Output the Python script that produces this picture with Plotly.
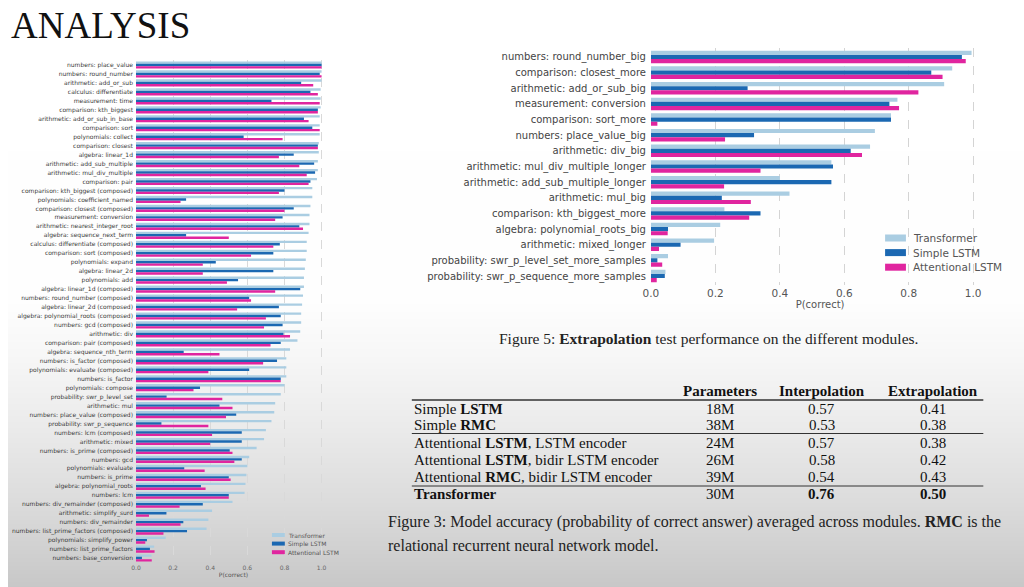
import plotly.graph_objects as go

W, H = 1024, 587

# ---------------- data ----------------
series_names = ["Transformer", "Simple LSTM", "Attentional LSTM"]
series_colors = ["#aacde2", "#1b68b2", "#e0259f"]

interp_modules = [
    "numbers: place_value", "numbers: round_number", "arithmetic: add_or_sub",
    "calculus: differentiate", "measurement: time", "comparison: kth_biggest",
    "arithmetic: add_or_sub_in_base", "comparison: sort", "polynomials: collect",
    "comparison: closest", "algebra: linear_1d", "arithmetic: add_sub_multiple",
    "arithmetic: mul_div_multiple", "comparison: pair", "comparison: kth_biggest (composed)",
    "polynomials: coefficient_named", "comparison: closest (composed)", "measurement: conversion",
    "arithmetic: nearest_integer_root", "algebra: sequence_next_term",
    "calculus: differentiate (composed)", "comparison: sort (composed)", "polynomials: expand",
    "algebra: linear_2d", "polynomials: add", "algebra: linear_1d (composed)",
    "numbers: round_number (composed)", "algebra: linear_2d (composed)",
    "algebra: polynomial_roots (composed)", "numbers: gcd (composed)", "arithmetic: div",
    "comparison: pair (composed)", "algebra: sequence_nth_term", "numbers: is_factor (composed)",
    "polynomials: evaluate (composed)", "numbers: is_factor", "polynomials: compose",
    "probability: swr_p_level_set", "arithmetic: mul", "numbers: place_value (composed)",
    "probability: swr_p_sequence", "numbers: lcm (composed)", "arithmetic: mixed",
    "numbers: is_prime (composed)", "numbers: gcd", "polynomials: evaluate", "numbers: is_prime",
    "algebra: polynomial_roots", "numbers: lcm", "numbers: div_remainder (composed)",
    "arithmetic: simplify_surd", "numbers: div_remainder", "numbers: list_prime_factors (composed)",
    "polynomials: simplify_power", "numbers: list_prime_factors", "numbers: base_conversion",
]
interp_transformer = [
    1.0, 1.0, 1.0, 0.995, 0.995, 0.995, 0.99, 0.99, 0.99, 0.985, 0.985, 0.98, 0.98, 0.975,
    0.95, 0.95, 0.94, 0.935, 0.935, 0.93, 0.92, 0.92, 0.915, 0.91, 0.905, 0.905, 0.90, 0.895,
    0.89, 0.89, 0.885, 0.87, 0.83, 0.81, 0.81, 0.81, 0.80, 0.78, 0.75, 0.745, 0.73, 0.70,
    0.69, 0.65, 0.61, 0.60, 0.595, 0.59, 0.585, 0.52, 0.41, 0.39, 0.38, 0.16, 0.098, 0.084,
]
interp_simple_lstm = [
    1.0, 0.99, 0.89, 0.94, 0.73, 0.98, 0.905, 0.95, 0.58, 0.98, 0.85, 0.96, 0.965, 0.94,
    0.80, 0.27, 0.85, 0.79, 0.88, 0.27, 0.775, 0.74, 0.43, 0.74, 0.55, 0.885, 0.61, 0.77,
    0.78, 0.79, 0.795, 0.78, 0.257, 0.76, 0.61, 0.78, 0.345, 0.165, 0.45, 0.54, 0.137, 0.57,
    0.57, 0.505, 0.57, 0.26, 0.50, 0.35, 0.50, 0.36, 0.164, 0.255, 0.275, 0.059, 0.075, 0.032,
]
interp_attentional_lstm = [
    1.0, 1.0, 0.955, 0.98, 0.99, 0.98, 0.93, 0.99, 0.79, 0.98, 0.77, 0.88, 0.92, 0.93,
    0.77, 0.24, 0.80, 0.75, 0.90, 0.50, 0.74, 0.62, 0.36, 0.36, 0.49, 0.75, 0.62, 0.545,
    0.70, 0.69, 0.83, 0.725, 0.45, 0.685, 0.39, 0.78, 0.31, 0.465, 0.52, 0.485, 0.39, 0.41,
    0.40, 0.52, 0.53, 0.37, 0.51, 0.375, 0.50, 0.235, 0.07, 0.24, 0.148, 0.05, 0.10, 0.085,
]

extrap_modules = [
    "numbers: round_number_big", "comparison: closest_more", "arithmetic: add_or_sub_big",
    "measurement: conversion", "comparison: sort_more", "numbers: place_value_big",
    "arithmetic: div_big", "arithmetic: mul_div_multiple_longer",
    "arithmetic: add_sub_multiple_longer", "arithmetic: mul_big", "comparison: kth_biggest_more",
    "algebra: polynomial_roots_big", "arithmetic: mixed_longer",
    "probability: swr_p_level_set_more_samples", "probability: swr_p_sequence_more_samples",
]
extrap_transformer = [0.995, 0.935, 0.91, 0.765, 0.745, 0.695, 0.68, 0.56, 0.40, 0.43,
                      0.228, 0.215, 0.196, 0.053, 0.045]
extrap_simple_lstm = [0.965, 0.87, 0.30, 0.74, 0.745, 0.32, 0.62, 0.565, 0.56, 0.22,
                      0.34, 0.053, 0.092, 0.02, 0.043]
extrap_attentional_lstm = [0.977, 0.905, 0.83, 0.77, 0.02, 0.23, 0.655, 0.34, 0.227, 0.31,
                           0.305, 0.052, 0.025, 0.035, 0.018]

x_ticks = [0.0, 0.2, 0.4, 0.6, 0.8, 1.0]

table_header = ["Parameters", "Interpolation", "Extrapolation"]
table_models = [
    "Simple <b>LSTM</b>", "Simple <b>RMC</b>", "Attentional <b>LSTM</b>, LSTM encoder",
    "Attentional <b>LSTM</b>, bidir LSTM encoder", "Attentional <b>RMC</b>, bidir LSTM encoder",
    "<b>Transformer</b>",
]
table_params = ["18M", "38M", "24M", "26M", "39M", "30M"]
table_interp = [0.57, 0.53, 0.57, 0.58, 0.54, 0.76]
table_extrap = [0.41, 0.38, 0.38, 0.42, 0.43, 0.50]

# slide background gradient (pixel row, gray level)
bg_y = [0, 300, 360, 430, 500, 560, 587]
bg_gray = [255, 254, 246, 234, 220, 206, 199]

SERIF = "Liberation Serif, Times New Roman, serif"
SANS = "DejaVu Sans, sans-serif"


def px(x):
    return x / W


def py(y):
    return 1 - y / H


fig = go.Figure()

# background
fig.add_trace(go.Heatmap(
    x=[0, 1], y=bg_y, z=[[g, g] for g in bg_gray], zmin=0, zmax=255,
    colorscale=[[0, "rgb(0,0,0)"], [1, "rgb(255,255,255)"]], zsmooth="best",
    showscale=False, hoverinfo="skip", xaxis="x", yaxis="y"))

interp_series = [interp_transformer, interp_simple_lstm, interp_attentional_lstm]
extrap_series = [extrap_transformer, extrap_simple_lstm, extrap_attentional_lstm]

for name, color, vals in zip(series_names, series_colors, interp_series):
    fig.add_trace(go.Bar(y=interp_modules, x=vals, orientation="h", name=name,
                         marker=dict(color=color, line=dict(width=0)),
                         xaxis="x2", yaxis="y2", showlegend=False))
for name, color, vals in zip(series_names, series_colors, extrap_series):
    fig.add_trace(go.Bar(y=extrap_modules, x=vals, orientation="h", name=name,
                         marker=dict(color=color, line=dict(width=0)),
                         xaxis="x3", yaxis="y3", showlegend=False))

n_i = len(interp_modules)
n_e = len(extrap_modules)

fig.update_layout(
    width=W, height=H, margin=dict(l=0, r=0, t=0, b=0),
    paper_bgcolor="white", plot_bgcolor="rgba(0,0,0,0)",
    barmode="group", bargap=0.2, bargroupgap=0,
    showlegend=False,
    xaxis=dict(domain=[0, 1], range=[0, 1], visible=False, fixedrange=True),
    yaxis=dict(domain=[0, 1], range=[H, 0], visible=False, fixedrange=True),
    xaxis2=dict(domain=[px(129), px(325.4)], range=[0, 1.05], anchor="y2",
                tickvals=x_ticks, tickformat=".1f", showgrid=True, gridcolor="#d9d9d9",
                griddash="dash", gridwidth=0.6, zeroline=False, showline=False, ticks="",
                tickfont=dict(family=SANS, size=6, color="#666"),
                title=dict(text="P(correct)", font=dict(family=SANS, size=6, color="#555"),
                           standoff=1)),
    yaxis2=dict(domain=[py(563.4), py(59.6)], anchor="x2", type="category",
                categoryorder="array", categoryarray=interp_modules,
                range=[n_i - 0.4, -0.6], showgrid=False, zeroline=False, ticks="",
                ticklabelstandoff=2,
                tickfont=dict(family=SANS, size=6, color="#3a3a3a")),
    xaxis3=dict(domain=[px(648), px(989)], range=[0, 1.05], anchor="y3",
                tickvals=x_ticks, tickformat=".1f", showgrid=True, gridcolor="#d4d4d4",
                griddash="dash", gridwidth=0.8, zeroline=False, showline=False, ticks="",
                tickfont=dict(family=SANS, size=10.5, color="#555"),
                title=dict(text="P(correct)", font=dict(family=SANS, size=10, color="#555"),
                           standoff=2)),
    yaxis3=dict(domain=[py(285.4), py(47.6)], anchor="x3", type="category",
                categoryorder="array", categoryarray=extrap_modules,
                range=[n_e - 0.4, -0.6], showgrid=False, zeroline=False, ticks="",
                ticklabelstandoff=4,
                tickfont=dict(family=SANS, size=10, color="#444")),
)

annotations = []
shapes = []

# title
annotations.append(dict(text="ANALYSIS", x=px(1), y=py(25), xref="paper", yref="paper",
                        xanchor="left", yanchor="middle", showarrow=False,
                        font=dict(family=SERIF, size=37, color="#111")))


# legends (built from the series lists)
def add_legend(x0, y0, dy, pw, ph, tx, fsize):
    for i, (name, color) in enumerate(zip(series_names, series_colors)):
        yc = y0 + i * dy
        shapes.append(dict(type="rect", xref="paper", yref="paper",
                           x0=px(x0), x1=px(x0 + pw), y0=py(yc - ph / 2), y1=py(yc + ph / 2),
                           fillcolor=color, line=dict(width=0)))
        annotations.append(dict(text=name, x=px(tx), y=py(yc), xref="paper", yref="paper",
                                xanchor="left", yanchor="middle", showarrow=False,
                                font=dict(family=SANS, size=fsize, color="#555")))


add_legend(884, 238, 14.6, 21, 7, 910, 10.5)
add_legend(266, 535, 8.6, 13, 4, 280, 6)

# Figure 5 caption
annotations.append(dict(text="Figure 5: <b>Extrapolation</b> test performance on the different modules.",
                        x=px(706), y=py(338), xref="paper", yref="paper", xanchor="center",
                        yanchor="middle", showarrow=False,
                        font=dict(family=SERIF, size=15.5, color="#222")))

# table
col_x = [718, 820, 932]
header_y = 391
row_y = [409, 425, 443, 460, 477, 494]
for cx, h in zip(col_x, table_header):
    annotations.append(dict(text="<b>" + h + "</b>", x=px(cx), y=py(header_y), xref="paper",
                            yref="paper", xanchor="center", yanchor="middle", showarrow=False,
                            font=dict(family=SERIF, size=15, color="#111")))
best_i = max(table_interp)
best_e = max(table_extrap)
for ry, m, p, vi, ve in zip(row_y, table_models, table_params, table_interp, table_extrap):
    cells = [
        (407, "left", m),
        (col_x[0], "center", p),
        (col_x[1], "center", ("<b>%.2f</b>" if vi == best_i else "%.2f") % vi),
        (col_x[2], "center", ("<b>%.2f</b>" if ve == best_e else "%.2f") % ve),
    ]
    for cx, anc, txt in cells:
        annotations.append(dict(text=txt, x=px(cx), y=py(ry), xref="paper", yref="paper",
                                xanchor=anc, yanchor="middle", showarrow=False,
                                font=dict(family=SERIF, size=15, color="#111")))
for ly, lw in [(400, 1.4), (433.5, 1.0), (486, 1.0)]:
    shapes.append(dict(type="line", xref="paper", yref="paper", x0=px(407), x1=px(983),
                       y0=py(ly), y1=py(ly), line=dict(color="#333", width=lw)))

# Figure 3 caption
annotations.append(dict(
    text="Figure 3: Model accuracy (probability of correct answer) averaged across modules. <b>RMC</b> is the",
    x=px(381), y=py(522), xref="paper", yref="paper", xanchor="left", yanchor="middle",
    showarrow=False, font=dict(family=SERIF, size=16, color="#222")))
annotations.append(dict(
    text="relational recurrent neural network model.",
    x=px(381), y=py(545), xref="paper", yref="paper", xanchor="left", yanchor="middle",
    showarrow=False, font=dict(family=SERIF, size=16, color="#222")))

fig.update_layout(annotations=annotations, shapes=shapes)

fig.write_html("out.html", post_script="document.body.style.margin='0';",
               config={"displayModeBar": False})
